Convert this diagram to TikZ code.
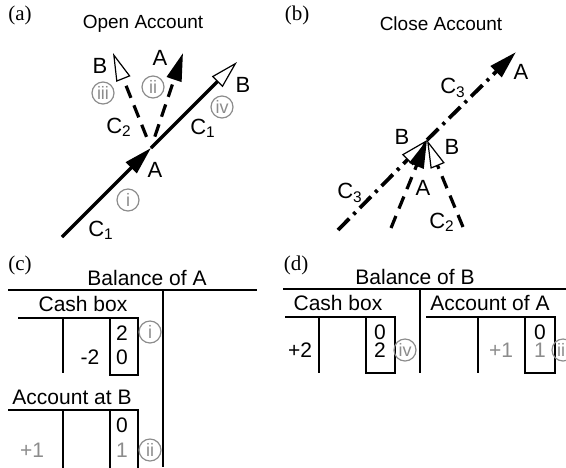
\documentclass[tikz,border=0pt]{standalone}
\usepackage{fontspec}
\setmainfont{Liberation Sans}
\newfontfamily\panelfont{Liberation Serif}
\usetikzlibrary{arrows.meta}

\begin{document}
\begin{tikzpicture}[x=0.5pt, y=-0.5pt,
    lbl/.style={font=\fontsize{11}{12}\selectfont, inner sep=0pt},
    ttl/.style={font=\fontsize{9.5}{11}\selectfont, inner sep=0pt},
    hdr/.style={font=\fontsize{10.5}{12}\selectfont, inner sep=0pt},
    pan/.style={font=\panelfont\fontsize{10.5}{12}\selectfont, inner sep=0pt},
    num/.style={font=\fontsize{10.5}{12}\selectfont, inner sep=0pt},
    grey/.style={text=black!45},
    stp/.style={circle, draw=black!45, text=black!45, line width=0.6pt, minimum size=11pt, inner sep=0pt, font=\fontsize{9}{10}\selectfont},
    fil/.style={line width=1.6pt, -{Triangle[length=14pt, width=7.5pt]}},
    opn/.style={line width=1.6pt, -{Triangle[fill=white, length=14pt, width=7.5pt, line width=0.6pt]}},
    dsh/.style={dash pattern=on 6.5pt off 4pt},
    dshdot/.style={line width=1.9pt, dash pattern=on 8pt off 3pt on 1.5pt off 3pt},
    tab/.style={line width=0.8pt}
]
\useasboundingbox (0,0) rectangle (566,467);
\clip (0,0) rectangle (566,467);

% (a)
\node[pan] (pa) at (20,15) {(a)};
\node[ttl] (ta) at (143,24) {Open Account};
\coordinate (a0) at (62,237);
\coordinate (aA) at (151,148);
\coordinate (aB) at (237,62);
\coordinate (a2B) at (113,53);
\coordinate (a2A) at (183,53);
\draw[fil] (a0) -- (aA);
\draw[opn] (aA) -- (aB);
\draw[opn, dsh, shorten <=6pt] (aA) -- (a2B);
\draw[fil, dsh, shorten <=6pt] (aA) -- (a2A);
\node[lbl] (aAl) at (155,170) {A};
\node[lbl] (aBl) at (243,85) {B};
\node[lbl] (c1lo) at (101,230) {C\textsubscript{1}};
\node[lbl] (c1hi) at (203,128) {C\textsubscript{1}};
\node[stp] (ai) at (128,200) {i};
\node[stp] (aiv) at (222,107) {iv};
\node[lbl] (a2Bl) at (100,66) {B};
\node[lbl] (a2Al) at (160,58) {A};
\node[stp] (aiii) at (103,93) {iii};
\node[stp] (aii) at (153,87) {ii};
\node[lbl] (c2a) at (119,127) {C\textsubscript{2}};

% (b)
\node[pan] (pb) at (297,15) {(b)};
\node[ttl] (tb) at (441,24) {Close Account};
\coordinate (b0) at (338,230);
\coordinate (bX) at (427,140);
\coordinate (bA) at (516,52);
\coordinate (bl) at (391,228);
\coordinate (br) at (463,227);
\draw[opn, dshdot] (b0) -- (bX);
\draw[fil, dshdot] (bX) -- (bA);
\draw[fil, dsh] (bl) -- (bX);
\draw[opn, dsh] (br) -- (bX);
\node[lbl] (bAl) at (521,72) {A};
\node[lbl] (c3hi) at (453,88) {C\textsubscript{3}};
\node[lbl] (bBl) at (402,137) {B};
\node[lbl] (bBr) at (452,147) {B};
\node[lbl] (c3lo) at (350,193) {C\textsubscript{3}};
\node[lbl] (bAlo) at (423,188) {A};
\node[lbl] (c2b) at (442,222) {C\textsubscript{2}};

% (c)
\node[pan] (pc) at (20,265) {(c)};
\node[hdr] (tc) at (147,278) {Balance of A};
\draw[tab] (8,290) -- (257,290);
\draw[tab] (163,290) -- (163,467);
\node[hdr] (cbox) at (83,304) {Cash box};
\draw[tab] (18,318) -- (138,318) -- (138,375) -- (110,375) -- (110,318);
\draw[tab] (63,318) -- (63,373);
\node[num] (c2v) at (122,333) {2};
\node[num] (c0v) at (122,357) {0};
\node[num] (cm2) at (90,357) {-2};
\node[stp] (ci) at (150,332) {i};
\node[hdr] (cacc) at (72,397) {Account at B};
\draw[tab] (8,410) -- (138,410) -- (138,470);
\draw[tab] (110,410) -- (110,470);
\draw[tab] (63,410) -- (63,470);
\node[num] (cacc0) at (122,425) {0};
\node[num, grey] (cacc1) at (122,450) {1};
\node[num, grey] (cp1) at (32,450) {+1};
\node[stp] (cii) at (150,450) {ii};

% (d)
\node[pan] (pd) at (296,265) {(d)};
\node[hdr] (td) at (415,277) {Balance of B};
\draw[tab] (283,289) -- (566,289);
\draw[tab] (420,289) -- (420,373);
\node[hdr] (dbox) at (338,303) {Cash box};
\draw[tab] (285,317) -- (395,317) -- (395,373) -- (366,373) -- (366,317);
\draw[tab] (319,317) -- (319,373);
\node[num] (d0v) at (380,332) {0};
\node[num] (d2v) at (380,350) {2};
\node[num] (dp2) at (300,350) {+2};
\node[stp] (div) at (405,350) {iv};
\node[hdr] (dacc) at (490,303) {Account of A};
\draw[tab] (426,317) -- (555,317) -- (555,373) -- (525,373) -- (525,317);
\draw[tab] (478,317) -- (478,373);
\node[num] (dacc0) at (540,332) {0};
\node[num, grey] (dacc1) at (540,350) {1};
\node[num, grey] (dp1) at (501,350) {+1};
\node[stp] (diii) at (563,350) {iii};
\end{tikzpicture}
\end{document}
